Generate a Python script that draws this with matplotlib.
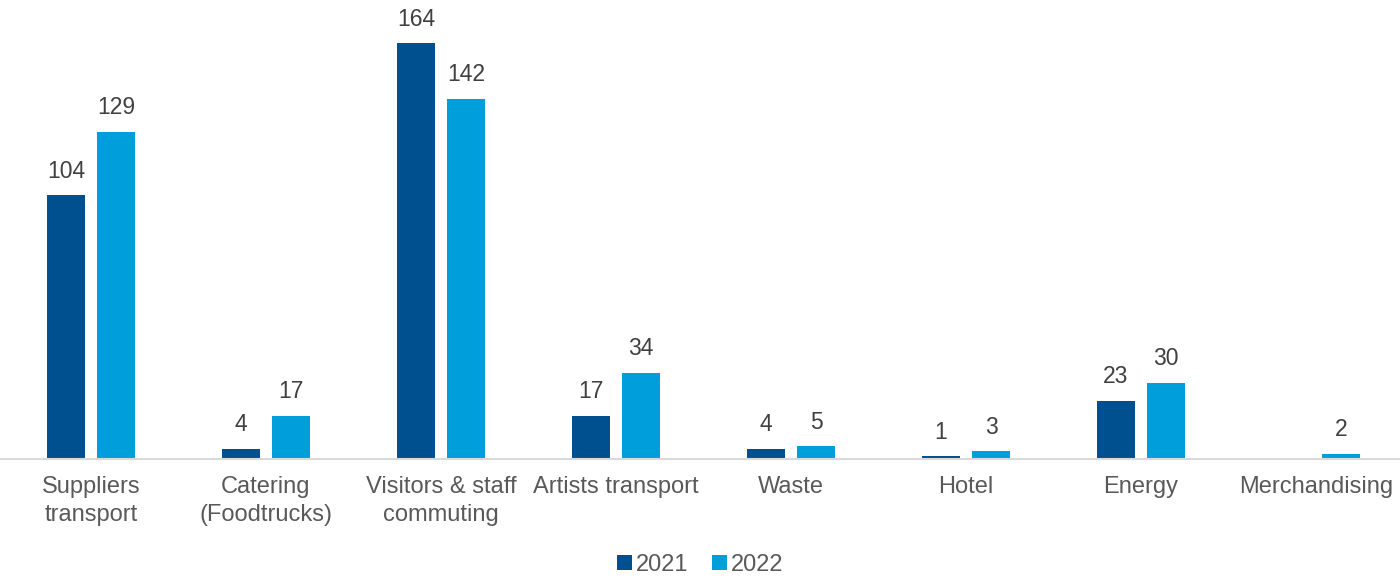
import numpy as np
import matplotlib.pyplot as plt

plt.rcParams['font.family'] = ['Liberation Sans', 'DejaVu Sans']

categories = ["Suppliers\ntransport", "Catering\n(Foodtrucks)", "Visitors & staff\ncommuting",
              "Artists transport", "Waste", "Hotel", "Energy", "Merchandising"]
vals_2021 = [104, 4, 164, 17, 4, 1, 23, None]
vals_2022 = [129, 17, 142, 34, 5, 3, 30, 2]

c2021 = "#00508F"
c2022 = "#009EDB"
txt = "#595959"

fig = plt.figure(figsize=(14, 5.76), dpi=100)
ax = fig.add_axes([0, 1 - 459 / 576, 1, 459 / 576])

x = np.arange(len(categories))
w = 0.222
off = 0.143

for vals, sign, col, lab in [(vals_2021, -1, c2021, "2021"), (vals_2022, 1, c2022, "2022")]:
    xs = [xi + sign * off for xi, v in zip(x, vals) if v is not None]
    ys = [v for v in vals if v is not None]
    bars = ax.bar(xs, ys, width=w, color=col, label=lab, zorder=2)
    for b, v in zip(bars, ys):
        ax.annotate(str(v), (b.get_x() + b.get_width() / 2, v), xytext=(0, 9),
                    textcoords="offset points", ha="center", va="bottom",
                    fontsize=16.5, color="#404040")

ax.set_xlim(-0.52, len(categories) - 0.52)
ax.set_ylim(0, 181)
ax.set_xticks(x)
ax.set_xticklabels(categories, fontsize=17, color=txt, linespacing=1.4)
ax.tick_params(axis="x", length=0, pad=12)
ax.set_yticks([])
for s in ["top", "right", "left"]:
    ax.spines[s].set_visible(False)
ax.spines["bottom"].set_color("#D9D9D9")
ax.spines["bottom"].set_linewidth(1.5)

fig.legend(loc="lower center", bbox_to_anchor=(0.5, -0.022), ncol=2, frameon=False,
           fontsize=17, labelcolor=txt, handlelength=0.65, handleheight=0.65,
           handletextpad=0.15, columnspacing=1.0, borderpad=0.05)

fig.savefig("out.png", dpi=100)
